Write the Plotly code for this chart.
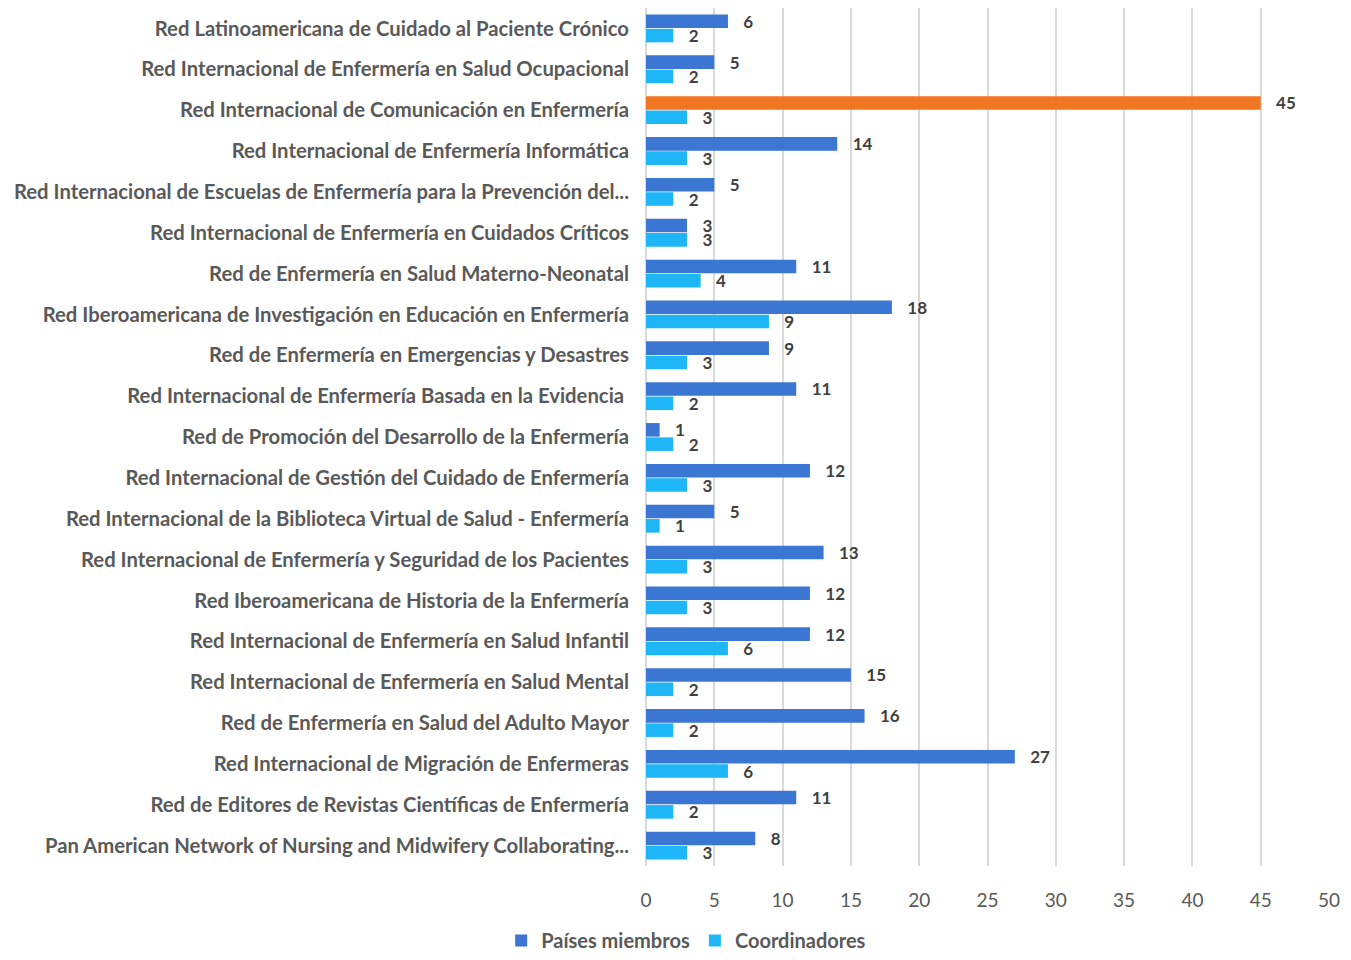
import plotly.graph_objects as go

categories = [
    "Red Latinoamericana de Cuidado al Paciente Crónico",
    "Red Internacional de Enfermería en Salud Ocupacional",
    "Red Internacional de Comunicación en Enfermería",
    "Red Internacional de Enfermería Informática",
    "Red Internacional de Escuelas de Enfermería para la Prevención del...",
    "Red Internacional de Enfermería en Cuidados Críticos",
    "Red de Enfermería en Salud Materno-Neonatal",
    "Red Iberoamericana de Investigación en Educación en Enfermería",
    "Red de Enfermería en Emergencias y Desastres",
    "Red Internacional de Enfermería Basada en la Evidencia ",
    "Red de Promoción del Desarrollo de la Enfermería",
    "Red Internacional de Gestión del Cuidado de Enfermería",
    "Red Internacional de la Biblioteca Virtual de Salud - Enfermería",
    "Red Internacional de Enfermería y Seguridad de los Pacientes",
    "Red Iberoamericana de Historia de la Enfermería",
    "Red Internacional de Enfermería en Salud Infantil",
    "Red Internacional de Enfermería en Salud Mental",
    "Red de Enfermería en Salud del Adulto Mayor",
    "Red Internacional de Migración de Enfermeras",
    "Red de Editores de Revistas Científicas de Enfermería",
    "Pan American Network of Nursing and Midwifery Collaborating...",
]
paises = [6, 5, 45, 14, 5, 3, 11, 18, 9, 11, 1, 12, 5, 13, 12, 12, 15, 16, 27, 11, 8]
coordinadores = [2, 2, 3, 3, 2, 3, 4, 9, 3, 2, 2, 3, 1, 3, 3, 6, 2, 2, 6, 2, 3]
highlight_index = 2

blue = "#3A76D2"
light = "#1EB6F6"
orange = "#F07622"
paises_colors = [orange if i == highlight_index else blue for i in range(len(paises))]
paises_line_w = [2 if i == highlight_index else 0 for i in range(len(paises))]

font_family = "Lato, 'Open Sans', sans-serif"
label_font = dict(size=17, color="#404040", family=font_family, weight="bold")
pad = "\u00a0\u00a0\u00a0"

fig = go.Figure()
fig.add_trace(go.Bar(
    y=categories, x=paises, orientation="h", name="Países miembros",
    marker=dict(color=paises_colors, line=dict(width=0)),
    texttemplate=pad + "%{x}", textposition="outside", cliponaxis=False,
    constraintext="none", textfont=label_font,
))
fig.add_trace(go.Bar(
    y=categories, x=coordinadores, orientation="h", name="Coordinadores",
    marker=dict(color=light, line=dict(width=0)),
    texttemplate=pad + "%{x}", textposition="outside", cliponaxis=False,
    constraintext="none", textfont=label_font,
))

fig.update_layout(
    width=1335, height=952,
    paper_bgcolor="white", plot_bgcolor="white",
    barmode="group", bargap=0.3, bargroupgap=0.05,
    margin=dict(l=638, r=14, t=0, b=94),
    font=dict(family=font_family, color="#595959"),
    showlegend=True,
    legend=dict(
        orientation="h", xref="container", yref="container",
        x=0.508, y=-0.012, xanchor="center", yanchor="bottom",
        font=dict(size=20, color="#595959", weight="bold"),
        itemwidth=30,
    ),
    xaxis=dict(
        range=[0, 50], dtick=5, showgrid=True, gridcolor="#D9D9D9", gridwidth=2,
        zeroline=True, zerolinecolor="#D9D9D9", zerolinewidth=2,
        tickfont=dict(size=19, color="#595959"), ticklabelstandoff=21,
        showline=False, fixedrange=True, automargin=False,
    ),
    yaxis=dict(
        autorange="reversed", showgrid=False, showline=False,
        tickfont=dict(size=20.3, color="#595959", weight="bold"),
        ticklabelstandoff=16, automargin=False,
    ),
)

fig.write_html("out.html")
